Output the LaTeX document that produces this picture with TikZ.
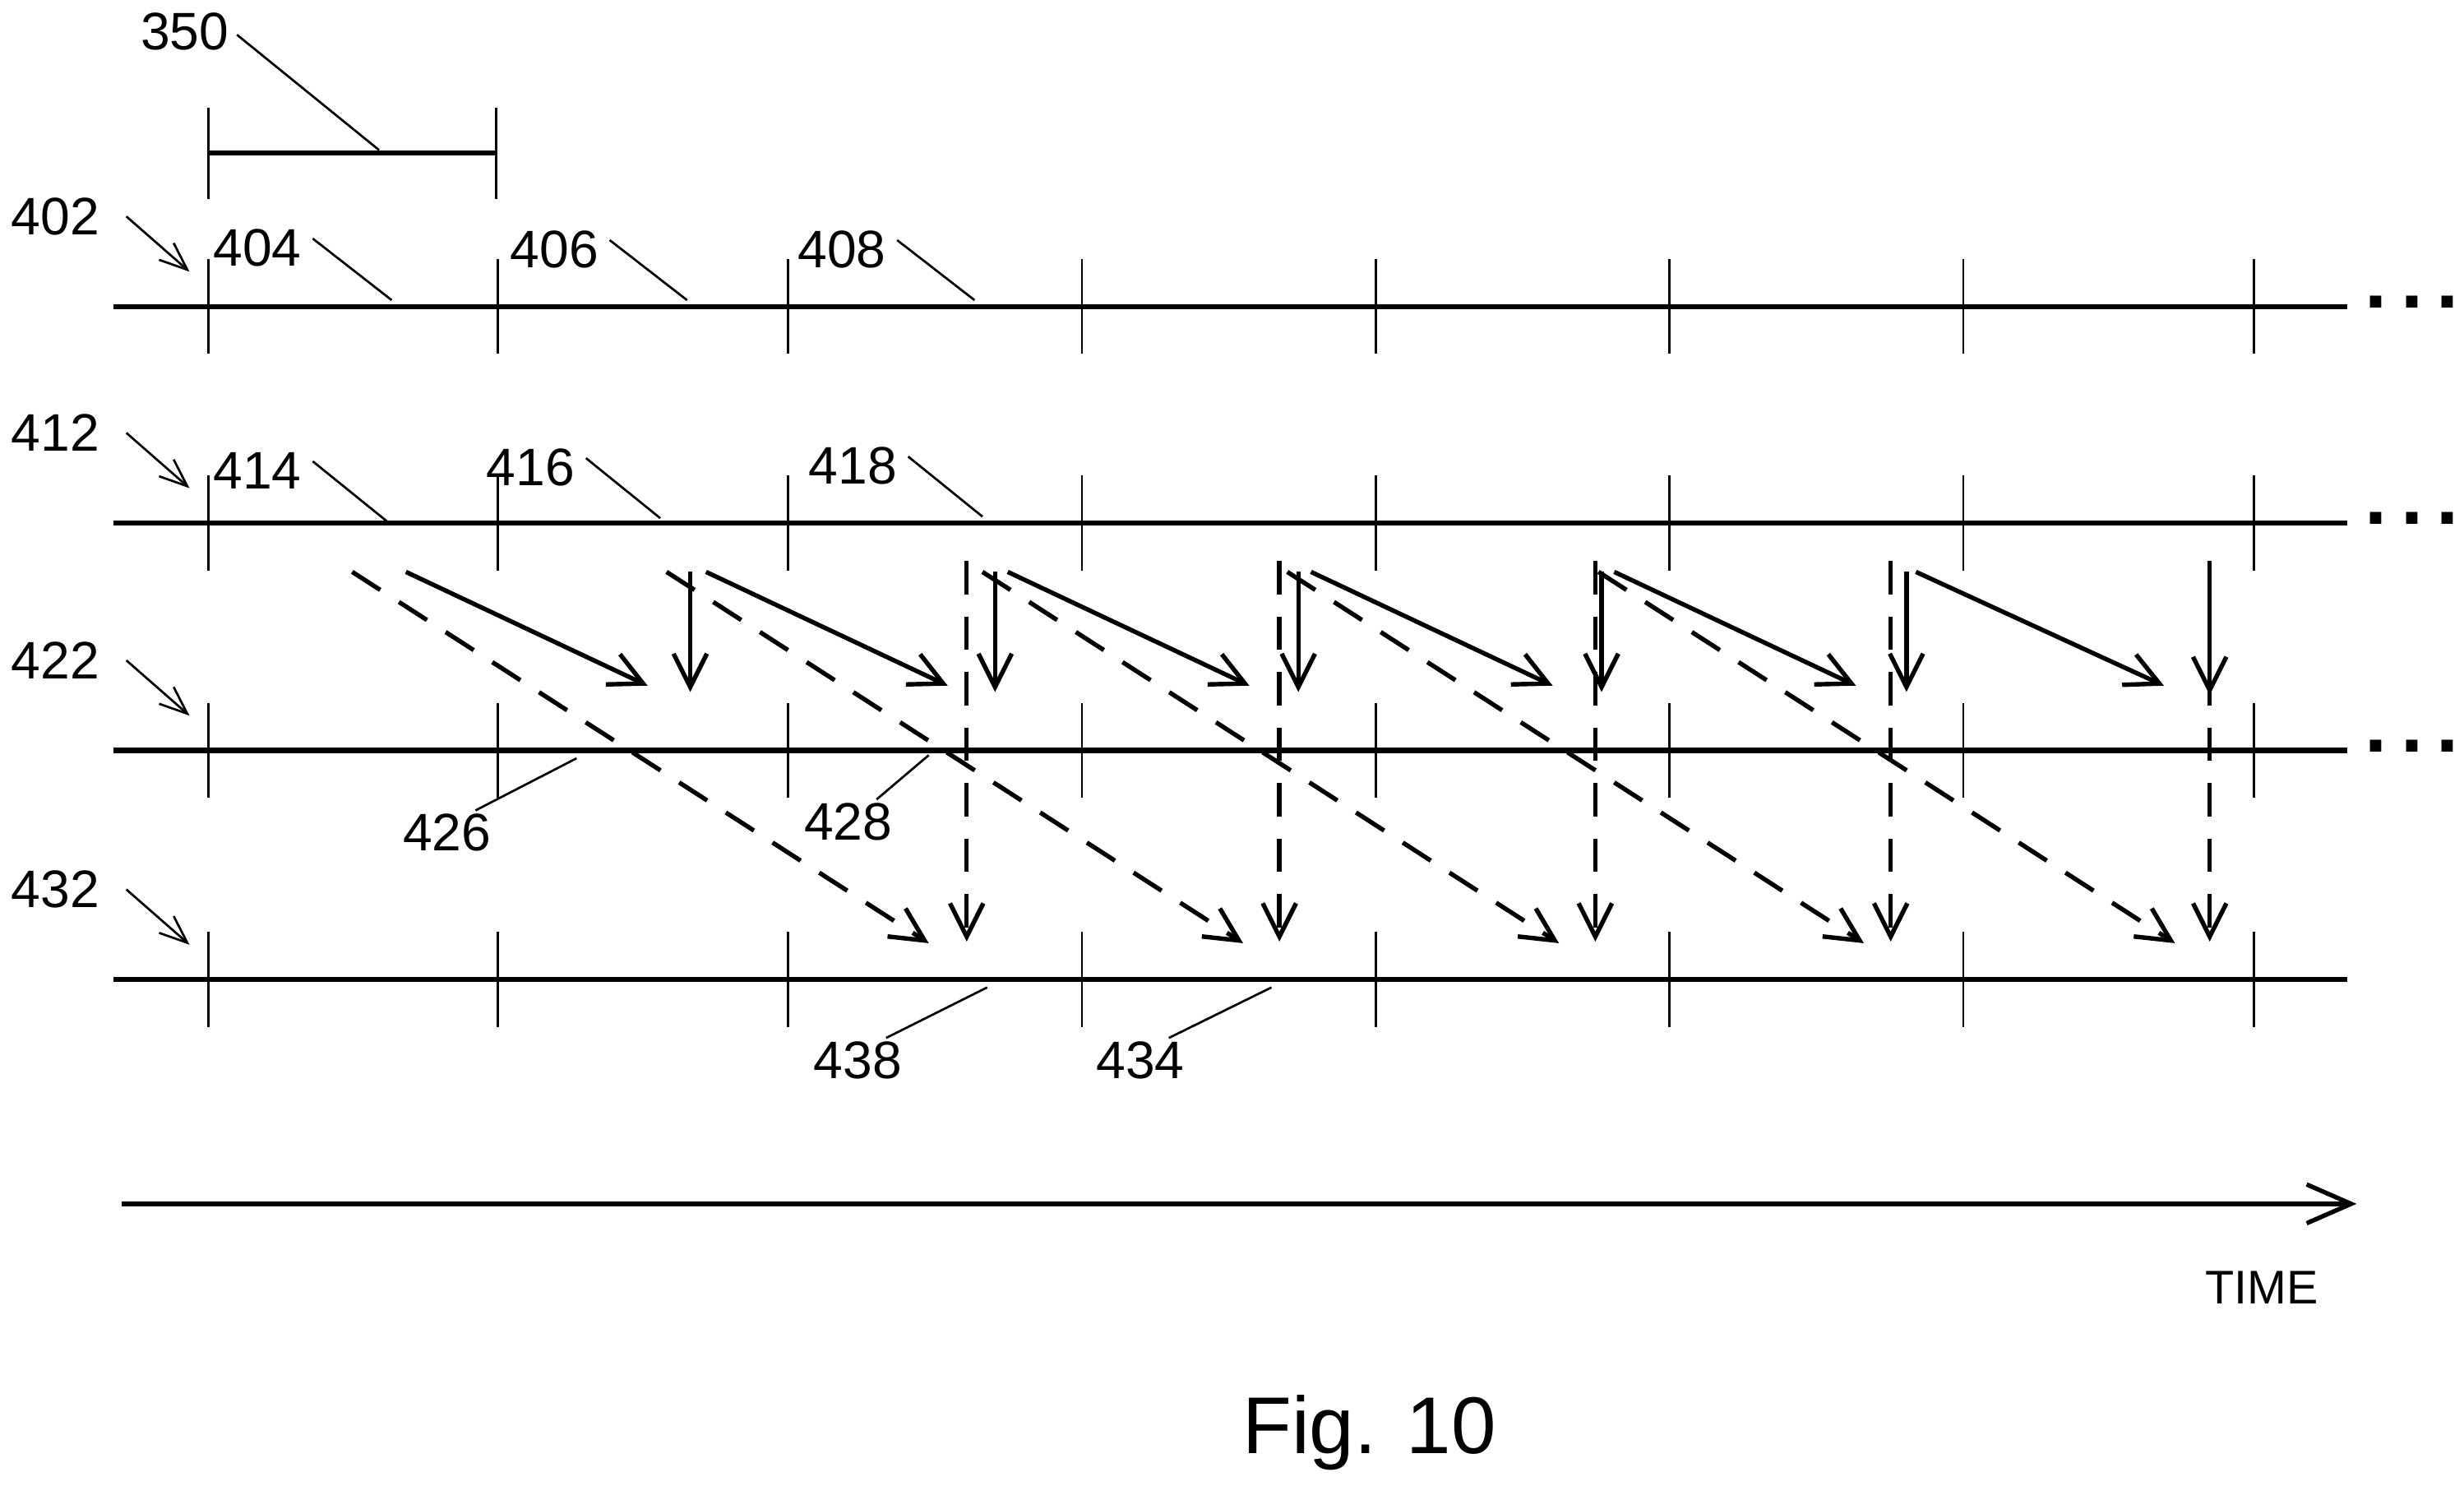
\documentclass[tikz,border=0pt]{standalone}
\usepackage{fontspec}
\setmainfont{Liberation Sans}
\usetikzlibrary{arrows.meta,positioning,calc}

\begin{document}
\begin{tikzpicture}[x=0.01cm,y=-0.01cm,
    lbl/.style={font=\fontsize{9.5}{11}\selectfont,inner sep=1pt},
    lead/.style={thin},
    rowline/.style={line width=0.9pt},
    tick/.style={thin},
    arr/.style={-{Straight Barb[length=6pt,width=6pt]},line width=0.8pt},
    darr/.style={arr,dash pattern=on 6pt off 4pt},
    ptr/.style={-{Straight Barb[length=5pt,width=4pt]},thin}
  ]
    \useasboundingbox (0,0) rectangle (1560,940.5);

    % ruler 350
    \coordinate (r1) at (132,97);
    \coordinate (r2) at (314,97);
    \draw[rowline] (r1) -- (r2);
    \draw[tick] (132,68) -- (132,126) (314,68) -- (314,126);
    \node[lbl] (l350) at (117,20) {350};
    \coordinate (p350) at (240,95);
    \draw[lead] (150,22) -- (p350);

    % the four rows
    \foreach \nm/\y/\dots in {402/194/1,412/331/1,422/475/1,432/620/0}{
      \coordinate (s\nm) at (72,\y);
      \coordinate (e\nm) at (1486,\y);
      \draw[rowline] (s\nm) -- (e\nm);
      \foreach \x in {132,315,499,685,871,1057,1243,1427}
        \draw[tick] (\x,\y-30) -- (\x,\y+30);
      \node[lbl] (l\nm) at (35,\y-57) {\nm};
      \coordinate (a\nm) at (120,\y-22);
      \draw[ptr] (80,\y-57) -- (a\nm);
      \ifnum\dots=1 \node[font=\Large\bfseries] at (1527,\y-3) {.\,.\,.};\fi
    }

    % block labels
    \foreach \t/\x/\y/\ex/\ey in {404/163/157/248/190,406/351/158/435/190,408/533/158/617/190,
                                  414/163/298/245/330,416/336/296/418/328,418/540/295/622/327}{
      \node[lbl] (l\t) at (\x,\y) {\t};
      \coordinate (p\t) at (\ex,\ey);
      \draw[lead] (\x+35,\y-6) -- (p\t);
    }
    \foreach \t/\x/\y/\ex/\ey in {426/283/527/365/480,428/537/520/588/478,
                                  438/543/671/625/625,434/722/671/805/625}{
      \node[lbl] (l\t) at (\x,\y) {\t};
      \coordinate (p\t) at (\ex,\ey);
      \draw[lead] (\x+18,\y-14) -- (p\t);
    }

    % transfers between rows
    \foreach \i/\sx/\vx/\dv/\dx in {0/257/437/612/223,1/447/630/810/422,2/638/822/1010/622,
                                    3/830/1014/1197/815,4/1022/1207/1399/1012}{
      \draw[arr] (\sx,362) -- (\sx+153,434);
      \draw[arr] (\vx,362) -- (\vx,438);
      \draw[darr] (\dv,355) -- (\dv,596);
      \draw[darr] (\dx,362) -- (\dx+365,597);
    }
    \draw[arr] (1213,362) -- (1370,434);
    \draw[arr] (1399,365) -- (1399,440);

    % time axis
    \coordinate (t0) at (77,762);
    \coordinate (t1) at (1492,762);
    \draw[-{Straight Barb[length=8pt,width=7pt]},line width=0.8pt] (t0) -- (t1);
    \node[lbl,font=\fontsize{8.5}{10}\selectfont] (time) at (1432,815) {TIME};
    \node[font=\fontsize{14.5}{17}\selectfont] (fig) at (867,907) {Fig. 10};
\end{tikzpicture}
\end{document}
